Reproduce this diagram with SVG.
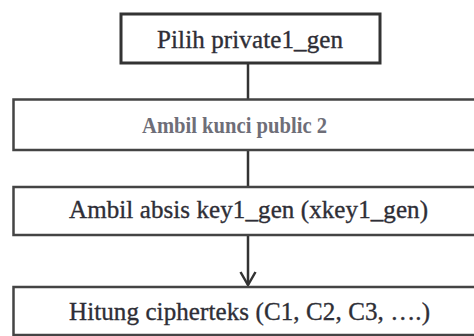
<svg xmlns="http://www.w3.org/2000/svg" width="474" height="336" viewBox="0 0 474 336">
<style>
.box{fill:#fff;stroke:#444;stroke-width:2.5}
.t{font-family:"Liberation Serif","Times New Roman",serif;font-size:25px;fill:#2e2e36;stroke:#2e2e36;stroke-width:0.35}
.t2{font-family:"Liberation Serif","Times New Roman",serif;font-size:23px;font-weight:bold;fill:#6e6e78}
.ln{stroke:#333;stroke-width:2.5;fill:none}
</style>
<rect width="474" height="336" fill="#fff"/>
<g id="connectors">
<line class="ln" x1="248" y1="63" x2="248" y2="99"/>
<line class="ln" x1="248" y1="150" x2="248" y2="187"/>
<line class="ln" x1="248" y1="235" x2="248" y2="285"/>
<polyline class="ln" points="240.5,272 248,285 255.5,272"/>
</g>
<g id="n1">
<rect class="box" x="121" y="14" width="259" height="49" style="stroke:#333;stroke-width:3"/>
<text class="t" x="157" y="48" textLength="186">Pilih private1_gen</text>
</g>
<g id="n2">
<rect class="box" x="13.5" y="99.5" width="470" height="50.5"/>
<text class="t2" x="142" y="133" textLength="185" lengthAdjust="spacingAndGlyphs">Ambil kunci public 2</text>
</g>
<g id="n3">
<rect class="box" x="13.5" y="187" width="470" height="48"/>
<text class="t" x="69" y="218" textLength="359">Ambil absis key1_gen (xkey1_gen)</text>
</g>
<g id="n4">
<rect class="box" x="13.5" y="287" width="470" height="48"/>
<text class="t" x="69" y="320" textLength="361">Hitung cipherteks (C1, C2, C3, ….)</text>
</g>
</svg>
